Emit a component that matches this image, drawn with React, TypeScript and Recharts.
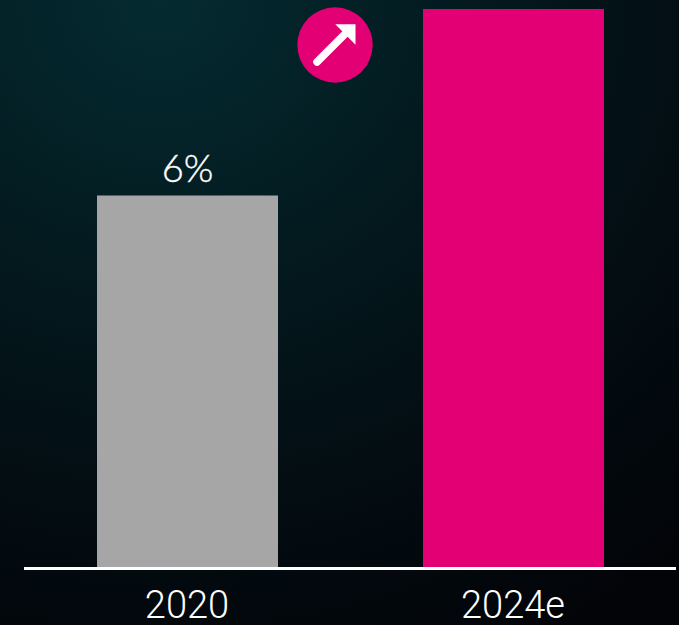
import React from 'react';
import { BarChart, Bar, Cell, LabelList, XAxis, YAxis } from 'recharts';

const categories = ['2020', '2024e'];
const shares = [6, 9];
const valueLabels = ['6%', undefined];

const barColors = ['#a6a6a6', '#e20074'];

const chartData = categories.map((year, i) => ({
  year,
  share: shares[i],
  label: valueLabels[i],
}));

const pageStyle: React.CSSProperties = {
  position: 'absolute',
  left: 0,
  top: 0,
  width: 679,
  height: 625,
  overflow: 'hidden',
  background:
    'radial-gradient(ellipse 800px 720px at 160px 0px, #042b31 0%, #03191e 40%, #030d12 70%, #020408 100%)',
};

// small trend badge between the two bars
function TrendBadge() {
  return (
    <svg width={679} height={625} style={{ position: 'absolute', left: 0, top: 0 }}>
      <circle cx={335} cy={45} r={37.7} fill="#e20074" />
      <line x1={317} y1={62} x2={346} y2={33} stroke="#fff" strokeWidth={7.5} strokeLinecap="round" />
      <polygon points="335.3,24.3 355.5,24.3 355.5,44.7" fill="#fff" />
    </svg>
  );
}

export default function App() {
  return (
    <div style={pageStyle}>
      <BarChart
        width={679}
        height={625}
        data={chartData}
        margin={{ top: 9, right: 3, bottom: 0, left: 24 }}
      >
        <XAxis
          dataKey="year"
          height={56.5}
          axisLine={{ stroke: '#ffffff', strokeWidth: 3 }}
          tickLine={false}
          tick={{ fill: '#ffffff', fontSize: 38, fontFamily: 'Roboto', fontWeight: 300 }}
          tickMargin={17}
          interval={0}
        />
        <YAxis hide domain={[0, 9]} />
        <Bar dataKey="share" barSize={181} isAnimationActive={false}>
          {chartData.map((d, i) => (
            <Cell key={d.year} fill={barColors[i]} />
          ))}
          <LabelList
            dataKey="label"
            position="top"
            offset={14}
            fill="#ffffff"
            stroke="#ffffff"
            strokeWidth={0.4}
            fontSize={38}
            fontFamily="Lato"
            fontWeight={300}
          />
        </Bar>
      </BarChart>
      <TrendBadge />
    </div>
  );
}
